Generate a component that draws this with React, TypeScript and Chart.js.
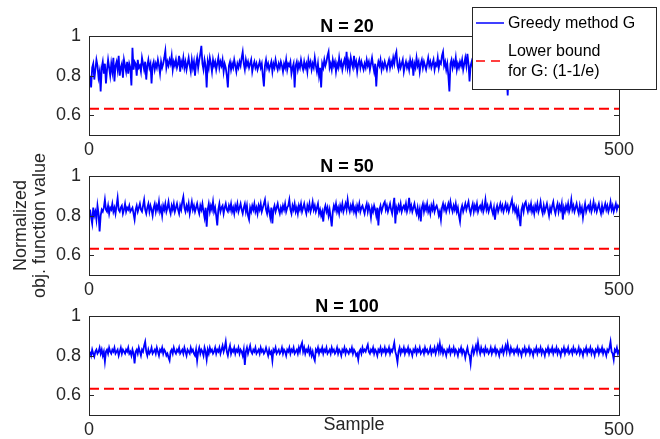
import { useEffect, useRef } from "react";
import { Chart, registerables } from "chart.js";

Chart.register(...registerables);

// ---------------- data ----------------
const xTicks = [0, 500];
const yTicks = [0.6, 0.8, 1];
const subplotTitles = ["N = 20", "N = 50", "N = 100"];
const seriesLabels = ["Greedy method G", "Lower bound\nfor G: (1-1/e)"];
const lowerBoundX = [0, 500];
const lowerBoundY = [0.6321, 0.6321];

const greedyN20 = [
  0.80,0.74,0.84,0.86,0.78,0.83,0.88,0.85,0.79,0.82,0.72,0.84,0.87,0.81,0.86,0.76,0.83,0.88,0.84,0.80,
  0.86,0.82,0.89,0.77,0.85,0.87,0.83,0.90,0.80,0.84,0.86,0.79,0.88,0.85,0.82,0.87,0.81,0.86,0.84,0.75,
  0.94,0.83,0.87,0.86,0.80,0.88,0.84,0.85,0.82,0.89,0.86,0.83,0.87,0.78,0.85,0.88,0.84,0.86,0.76,0.85,
  0.87,0.83,0.86,0.84,0.88,0.85,0.81,0.87,0.84,0.86,0.89,0.925,0.84,0.87,0.85,0.88,0.86,0.90,0.83,0.87,
  0.85,0.88,0.84,0.86,0.90,0.82,0.87,0.85,0.89,0.84,0.87,0.83,0.86,0.89,0.85,0.82,0.88,0.84,0.87,0.80,
  0.86,0.89,0.84,0.88,0.91,0.95,0.86,0.83,0.88,0.85,0.74,0.87,0.84,0.89,0.86,0.82,0.88,0.85,0.87,0.83,
  0.86,0.89,0.84,0.87,0.85,0.88,0.82,0.86,0.84,0.80,0.74,0.85,0.87,0.83,0.86,0.84,0.88,0.85,0.82,0.86,
  0.84,0.87,0.85,0.89,0.92,0.86,0.83,0.88,0.85,0.87,0.84,0.86,0.88,0.82,0.85,0.87,0.84,0.86,0.83,0.85,
  0.87,0.84,0.86,0.80,0.745,0.85,0.88,0.84,0.86,0.83,0.85,0.87,0.82,0.86,0.84,0.88,0.85,0.83,0.86,0.84,
  0.87,0.85,0.82,0.86,0.84,0.88,0.83,0.86,0.85,0.87,0.81,0.84,0.86,0.74,0.85,0.87,0.83,0.86,0.84,0.88,
  0.85,0.83,0.87,0.84,0.86,0.82,0.88,0.85,0.87,0.83,0.86,0.84,0.89,0.85,0.82,0.86,0.80,0.84,0.74,0.86,
  0.84,0.88,0.85,0.87,0.90,0.92,0.84,0.86,0.83,0.88,0.85,0.87,0.82,0.86,0.84,0.89,0.85,0.87,0.83,0.86,
  0.88,0.85,0.92,0.84,0.87,0.83,0.89,0.86,0.84,0.90,0.85,0.87,0.82,0.86,0.88,0.84,0.87,0.85,0.83,0.86,
  0.84,0.88,0.85,0.87,0.83,0.86,0.89,0.85,0.82,0.86,0.745,0.84,0.87,0.85,0.88,0.83,0.86,0.84,0.87,0.85,
  0.83,0.86,0.88,0.84,0.87,0.85,0.89,0.86,0.90,0.92,0.85,0.83,0.87,0.84,0.86,0.88,0.82,0.85,0.87,0.84,
  0.86,0.83,0.88,0.85,0.87,0.80,0.86,0.84,0.89,0.85,0.87,0.82,0.86,0.88,0.84,0.87,0.85,0.83,0.86,0.89,
  0.85,0.87,0.84,0.86,0.88,0.83,0.86,0.85,0.89,0.84,0.87,0.86,0.90,0.92,0.85,0.87,0.83,0.86,0.80,0.72,
  0.86,0.88,0.84,0.87,0.85,0.89,0.83,0.86,0.84,0.87,0.85,0.88,0.83,0.86,0.89,0.85,0.91,0.86,0.77,0.85,
  0.87,0.84,0.86,0.88,0.83,0.86,0.85,0.87,0.84,0.89,0.85,0.86,0.82,0.87,0.85,0.88,0.84,0.86,0.83,0.87,
  0.85,0.88,0.84,0.86,0.87,0.83,0.85,0.88,0.84,0.86,0.82,0.87,0.85,0.80,0.70,0.84,0.87,0.85,0.88,0.84,
  0.86,0.83,0.87,0.85,0.88,0.84,0.86,0.89,0.85,0.83,0.87,0.84,0.86,0.88,0.85,0.87,0.83,0.86,0.84,0.88,
  0.85,0.87,0.84,0.86,0.82,0.88,0.85,0.87,0.84,0.86,0.89,0.85,0.83,0.87,0.85,0.86,0.84,0.88,0.85,0.87,
  0.84,0.86,0.88,0.85,0.83,0.87,0.85,0.89,0.84,0.86,0.87,0.85,0.83,0.88,0.86,0.84,0.87,0.85,0.89,0.86,
  0.84,0.87,0.85,0.88,0.83,0.86,0.85,0.87,0.84,0.86,0.88,0.85,0.83,0.87,0.86,0.84,0.88,0.85,0.87,0.84,
  0.86,0.88,0.85,0.83,0.87,0.84,0.86,0.89,0.85,0.87,0.84,0.86,0.83,0.88,0.85,0.87,0.84,0.86,0.88,0.85,
];

const greedyN50 = [
  0.83,0.79,0.76,0.84,0.80,0.82,0.78,0.85,0.81,0.72,0.80,0.83,0.82,0.84,0.88,0.83,0.82,0.85,0.81,0.84,
  0.83,0.86,0.82,0.84,0.81,0.85,0.89,0.83,0.82,0.84,0.85,0.81,0.83,0.86,0.82,0.84,0.83,0.85,0.82,0.83,
  0.84,0.81,0.78,0.83,0.85,0.82,0.84,0.86,0.83,0.82,0.85,0.88,0.83,0.81,0.84,0.86,0.82,0.85,0.83,0.80,
  0.84,0.86,0.82,0.85,0.83,0.87,0.82,0.84,0.80,0.85,0.83,0.86,0.82,0.84,0.87,0.83,0.81,0.85,0.83,0.86,
  0.82,0.84,0.86,0.83,0.81,0.85,0.83,0.87,0.895,0.84,0.82,0.85,0.83,0.86,0.81,0.84,0.87,0.83,0.85,0.82,
  0.84,0.86,0.83,0.81,0.85,0.83,0.86,0.82,0.79,0.84,0.744,0.83,0.86,0.82,0.85,0.83,0.87,0.82,0.84,0.80,
  0.75,0.83,0.86,0.82,0.84,0.85,0.81,0.84,0.86,0.83,0.82,0.85,0.83,0.86,0.82,0.84,0.81,0.85,0.83,0.86,
  0.82,0.84,0.86,0.83,0.81,0.84,0.86,0.82,0.85,0.80,0.78,0.84,0.82,0.85,0.83,0.86,0.82,0.84,0.81,0.85,
  0.83,0.86,0.82,0.84,0.86,0.88,0.83,0.81,0.85,0.82,0.79,0.84,0.76,0.83,0.85,0.82,0.84,0.86,0.83,0.81,
  0.84,0.82,0.85,0.83,0.86,0.82,0.84,0.85,0.88,0.83,0.81,0.85,0.83,0.86,0.82,0.84,0.81,0.85,0.83,0.86,
  0.82,0.84,0.86,0.83,0.81,0.85,0.83,0.86,0.82,0.84,0.87,0.83,0.85,0.82,0.84,0.86,0.81,0.83,0.80,0.82,
  0.77,0.83,0.85,0.82,0.84,0.80,0.83,0.79,0.745,0.82,0.85,0.83,0.86,0.82,0.84,0.81,0.85,0.83,0.86,0.82,
  0.84,0.86,0.83,0.88,0.84,0.82,0.85,0.83,0.86,0.82,0.84,0.81,0.85,0.83,0.86,0.82,0.84,0.85,0.83,0.81,
  0.84,0.86,0.82,0.85,0.83,0.79,0.84,0.82,0.85,0.83,0.80,0.84,0.75,0.83,0.85,0.82,0.84,0.86,0.87,0.83,
  0.85,0.82,0.84,0.86,0.83,0.81,0.85,0.89,0.76,0.84,0.82,0.85,0.83,0.86,0.82,0.84,0.85,0.83,0.86,0.82,
  0.84,0.89,0.83,0.85,0.82,0.84,0.86,0.83,0.81,0.84,0.80,0.83,0.77,0.84,0.86,0.82,0.85,0.83,0.86,0.82,
  0.84,0.81,0.85,0.83,0.86,0.82,0.84,0.85,0.83,0.80,0.82,0.78,0.84,0.86,0.83,0.85,0.82,0.84,0.86,0.83,
  0.87,0.84,0.82,0.85,0.83,0.86,0.82,0.84,0.80,0.77,0.83,0.85,0.82,0.84,0.86,0.83,0.85,0.87,0.83,0.81,
  0.84,0.86,0.82,0.85,0.83,0.86,0.82,0.84,0.85,0.83,0.86,0.82,0.84,0.88,0.83,0.85,0.82,0.84,0.86,0.83,
  0.81,0.84,0.78,0.83,0.85,0.82,0.84,0.86,0.83,0.85,0.82,0.84,0.86,0.83,0.85,0.82,0.84,0.86,0.88,0.83,
  0.85,0.82,0.84,0.80,0.83,0.79,0.747,0.83,0.85,0.82,0.86,0.87,0.84,0.82,0.85,0.83,0.86,0.82,0.84,0.81,
  0.85,0.83,0.86,0.82,0.84,0.87,0.83,0.81,0.85,0.82,0.84,0.86,0.83,0.80,0.84,0.82,0.85,0.87,0.83,0.81,
  0.84,0.86,0.82,0.85,0.83,0.86,0.78,0.84,0.82,0.85,0.83,0.86,0.82,0.84,0.88,0.83,0.85,0.82,0.84,0.86,
  0.83,0.81,0.85,0.82,0.84,0.79,0.83,0.86,0.82,0.84,0.85,0.83,0.86,0.82,0.84,0.87,0.83,0.85,0.82,0.84,
  0.86,0.83,0.81,0.85,0.82,0.84,0.86,0.83,0.85,0.82,0.84,0.87,0.83,0.85,0.82,0.84,0.86,0.83,0.85,0.84,
];

const greedyN100 = [
  0.82,0.80,0.83,0.81,0.795,0.82,0.83,0.81,0.82,0.84,0.81,0.83,0.80,0.82,0.77,0.82,0.83,0.81,0.84,0.82,
  0.81,0.83,0.82,0.84,0.81,0.82,0.83,0.80,0.82,0.84,0.81,0.83,0.82,0.81,0.83,0.82,0.84,0.81,0.82,0.80,
  0.83,0.81,0.76,0.82,0.83,0.81,0.84,0.82,0.80,0.83,0.82,0.85,0.87,0.82,0.80,0.83,0.81,0.82,0.84,0.81,
  0.82,0.83,0.81,0.84,0.82,0.80,0.83,0.82,0.84,0.81,0.83,0.82,0.80,0.81,0.79,0.775,0.82,0.83,0.81,0.84,
  0.82,0.81,0.83,0.82,0.84,0.81,0.82,0.83,0.81,0.84,0.82,0.80,0.83,0.82,0.81,0.84,0.82,0.83,0.81,0.80,
  0.83,0.775,0.82,0.84,0.81,0.83,0.82,0.80,0.84,0.82,0.78,0.83,0.81,0.84,0.82,0.83,0.81,0.82,0.84,0.81,
  0.83,0.82,0.84,0.81,0.83,0.85,0.82,0.84,0.87,0.82,0.80,0.83,0.85,0.81,0.83,0.82,0.84,0.81,0.83,0.82,
  0.84,0.81,0.83,0.82,0.80,0.83,0.753,0.82,0.84,0.81,0.83,0.85,0.82,0.81,0.83,0.82,0.84,0.81,0.82,0.83,
  0.81,0.84,0.82,0.83,0.81,0.82,0.84,0.82,0.80,0.83,0.81,0.82,0.775,0.83,0.82,0.84,0.81,0.82,0.83,0.81,
  0.82,0.84,0.81,0.83,0.82,0.80,0.83,0.82,0.84,0.81,0.83,0.82,0.84,0.81,0.82,0.83,0.81,0.84,0.82,0.85,
  0.865,0.82,0.84,0.81,0.83,0.82,0.84,0.81,0.83,0.80,0.82,0.79,0.775,0.83,0.82,0.84,0.81,0.83,0.82,0.84,
  0.81,0.83,0.82,0.84,0.81,0.82,0.83,0.81,0.84,0.82,0.83,0.81,0.82,0.84,0.81,0.83,0.82,0.80,0.83,0.82,
  0.84,0.81,0.83,0.82,0.81,0.83,0.82,0.84,0.81,0.83,0.82,0.80,0.81,0.78,0.82,0.83,0.81,0.84,0.82,0.83,
  0.82,0.84,0.855,0.82,0.81,0.83,0.82,0.84,0.81,0.83,0.82,0.80,0.83,0.82,0.84,0.81,0.83,0.82,0.84,0.81,
  0.83,0.82,0.84,0.81,0.83,0.82,0.84,0.865,0.82,0.80,0.767,0.82,0.84,0.81,0.83,0.82,0.84,0.81,0.83,0.82,
  0.84,0.81,0.83,0.82,0.80,0.83,0.82,0.84,0.81,0.83,0.82,0.84,0.81,0.82,0.83,0.81,0.84,0.82,0.83,0.81,
  0.82,0.84,0.81,0.83,0.82,0.84,0.81,0.83,0.85,0.82,0.86,0.82,0.84,0.81,0.83,0.82,0.80,0.83,0.82,0.84,
  0.81,0.83,0.82,0.84,0.81,0.83,0.82,0.80,0.83,0.82,0.84,0.81,0.83,0.82,0.79,0.82,0.84,0.81,0.80,0.76,
  0.82,0.84,0.81,0.83,0.85,0.82,0.865,0.83,0.81,0.84,0.82,0.83,0.81,0.84,0.82,0.83,0.81,0.82,0.84,0.81,
  0.83,0.82,0.84,0.81,0.83,0.82,0.80,0.83,0.82,0.84,0.81,0.83,0.85,0.82,0.86,0.83,0.81,0.84,0.82,0.83,
  0.81,0.83,0.82,0.84,0.81,0.83,0.82,0.80,0.83,0.82,0.84,0.81,0.83,0.82,0.84,0.81,0.83,0.82,0.80,0.83,
  0.82,0.84,0.81,0.83,0.82,0.84,0.81,0.83,0.82,0.80,0.83,0.82,0.84,0.81,0.83,0.82,0.84,0.81,0.83,0.82,
  0.84,0.81,0.83,0.82,0.80,0.83,0.82,0.84,0.81,0.83,0.82,0.84,0.81,0.82,0.83,0.81,0.84,0.82,0.83,0.81,
  0.82,0.84,0.81,0.83,0.82,0.80,0.83,0.82,0.84,0.81,0.83,0.82,0.84,0.81,0.83,0.82,0.80,0.83,0.82,0.84,
  0.81,0.83,0.82,0.84,0.81,0.83,0.82,0.80,0.83,0.82,0.84,0.87,0.82,0.81,0.78,0.83,0.82,0.84,0.81,0.83,
];

// ---------------- styling / layout ----------------
const W = 660;
const H = 439;
const FONT = "'Liberation Sans', Arial, Helvetica, sans-serif";
const AXIS_COLOR = "#262626";
const PLOT_LEFT = 89;
const PLOT_RIGHT = 619;
const PLOT_HEIGHT = 99;
const PLOT_TOPS = [36, 176, 316];

const boxPlugin = {
  id: "matlabBox",
  afterDatasetsDraw(chart: any) {
    const { ctx, chartArea, scales } = chart;
    const { left, right, top, bottom } = chartArea;
    ctx.save();
    ctx.strokeStyle = AXIS_COLOR;
    ctx.lineWidth = 1;
    ctx.beginPath();
    for (const v of yTicks) {
      const y = Math.round(scales.y.getPixelForValue(v)) + 0.5;
      ctx.moveTo(left, y);
      ctx.lineTo(left + 5, y);
      ctx.moveTo(right, y);
      ctx.lineTo(right - 5, y);
    }
    ctx.stroke();
    ctx.strokeRect(Math.round(left) + 0.5, Math.round(top) + 0.5, Math.round(right - left), Math.round(bottom - top));
    const t = chart.options.plugins.matlabBox?.title;
    if (t) {
      ctx.fillStyle = "#000";
      ctx.font = `bold 18px ${FONT}`;
      ctx.textAlign = "center";
      ctx.textBaseline = "alphabetic";
      ctx.fillText(t, (left + right) / 2 - 7, top - 4);
    }
    ctx.restore();
  },
};

const floatLegendPlugin = {
  id: "floatLegend",
  afterDraw(chart: any) {
    const opts = chart.options.plugins.floatLegend;
    if (!opts || !opts.show) return;
    const { ctx, chartArea } = chart;
    const x0 = chartArea.right - 147;
    const y0 = chartArea.top - 29;
    const w = 184;
    const h = 82;
    ctx.save();
    ctx.fillStyle = "#ffffff";
    ctx.fillRect(x0, y0, w, h);
    ctx.strokeStyle = AXIS_COLOR;
    ctx.lineWidth = 1;
    ctx.strokeRect(Math.round(x0) + 0.5, Math.round(y0) + 0.5, w, h);
    const rows = [
      { lineY: 16, baselines: [21] },
      { lineY: 54, baselines: [49, 68.5] },
    ];
    chart.data.datasets.forEach((ds: any, i: number) => {
      const r = rows[i];
      if (!r) return;
      ctx.beginPath();
      ctx.strokeStyle = ds.borderColor;
      ctx.lineWidth = 1.5;
      ctx.setLineDash(ds.borderDash ? [9, 6] : []);
      ctx.moveTo(x0 + 4, y0 + r.lineY);
      ctx.lineTo(x0 + 32, y0 + r.lineY);
      ctx.stroke();
      ctx.setLineDash([]);
      ctx.fillStyle = "#000";
      ctx.font = `16px ${FONT}`;
      ctx.textAlign = "left";
      ctx.textBaseline = "alphabetic";
      String(ds.label)
        .split("\n")
        .forEach((line: string, j: number) => {
          ctx.fillText(line, x0 + 36, y0 + r.baselines[j]);
        });
    });
    ctx.restore();
  },
};

type SubplotProps = {
  index: number;
  values: number[];
  legend?: boolean;
  yTitle?: string[];
  xTitle?: string;
};

function Subplot({ index, values, legend, yTitle, xTitle }: SubplotProps) {
  const ref = useRef<HTMLCanvasElement | null>(null);
  useEffect(() => {
    if (!ref.current) return;
    const top = PLOT_TOPS[index];
    const bottom = top + PLOT_HEIGHT;
    const xScaleH = xTitle ? 21.1 : 30;
    const chart = new Chart(ref.current, {
      type: "line",
      data: {
        datasets: [
          {
            label: seriesLabels[0],
            data: values.map((v, i) => ({ x: i + 1, y: v })),
            borderColor: "#0000ff",
            borderWidth: 1.8,
            pointRadius: 0,
            tension: 0,
          },
          {
            label: seriesLabels[1],
            data: lowerBoundX.map((x, i) => ({ x, y: lowerBoundY[i] })),
            borderColor: "#ff0000",
            borderWidth: 2,
            borderDash: [10, 5],
            pointRadius: 0,
            tension: 0,
          },
        ],
      },
      options: {
        animation: false,
        responsive: false,
        events: [],
        layout: {
          padding: { left: 0, right: W - PLOT_RIGHT, top, bottom: H - bottom - xScaleH },
        },
        plugins: {
          legend: { display: false },
          tooltip: { enabled: false },
          title: { display: false },
          matlabBox: { title: subplotTitles[index] },
          floatLegend: { show: !!legend },
        } as any,
        scales: {
          x: {
            type: "linear",
            min: 0,
            max: 500,
            afterBuildTicks: (s: any) => {
              s.ticks = xTicks.map((v) => ({ value: v }));
            },
            afterFit: (s: any) => {
              s.height = xScaleH;
            },
            grid: { display: false, drawTicks: false },
            border: { display: false },
            ticks: {
              padding: 4,
              maxRotation: 0,
              autoSkip: false,
              color: AXIS_COLOR,
              font: { family: FONT, size: 18 },
              callback: (v: any) => String(v),
            },
            title: {
              display: !!xTitle,
              text: xTitle || "",
              color: AXIS_COLOR,
              font: { family: FONT, size: 18, lineHeight: 1.2 },
              padding: 0,
            },
          },
          y: {
            type: "linear",
            min: 0.5,
            max: 1,
            afterBuildTicks: (s: any) => {
              s.ticks = yTicks.map((v) => ({ value: v }));
            },
            afterFit: (s: any) => {
              s.width = PLOT_LEFT;
            },
            grid: { display: false, drawTicks: false },
            border: { display: false },
            ticks: {
              padding: 8,
              color: AXIS_COLOR,
              font: { family: FONT, size: 18 },
              callback: (v: any) => String(v),
            },
            title: {
              display: !!yTitle,
              text: yTitle || "",
              color: AXIS_COLOR,
              font: { family: FONT, size: 18, lineHeight: 1.06 },
              padding: { top: 11.3, bottom: 0 },
            },
          },
        },
      } as any,
      plugins: [boxPlugin, floatLegendPlugin],
    });
    return () => chart.destroy();
  }, [index, values, legend, yTitle, xTitle]);
  return (
    <canvas
      ref={ref}
      width={W}
      height={H}
      style={{ position: "absolute", left: 0, top: 0, width: W, height: H }}
    />
  );
}

const yAxisTitle = ["Normalized", "obj. function value"];

export default function App() {
  return (
    <div style={{ position: "fixed", left: 0, top: 0, width: W, height: H, background: "#fff" }}>
      <Subplot index={0} values={greedyN20} legend />
      <Subplot index={1} values={greedyN50} yTitle={yAxisTitle} />
      <Subplot index={2} values={greedyN100} xTitle="Sample" />
    </div>
  );
}
